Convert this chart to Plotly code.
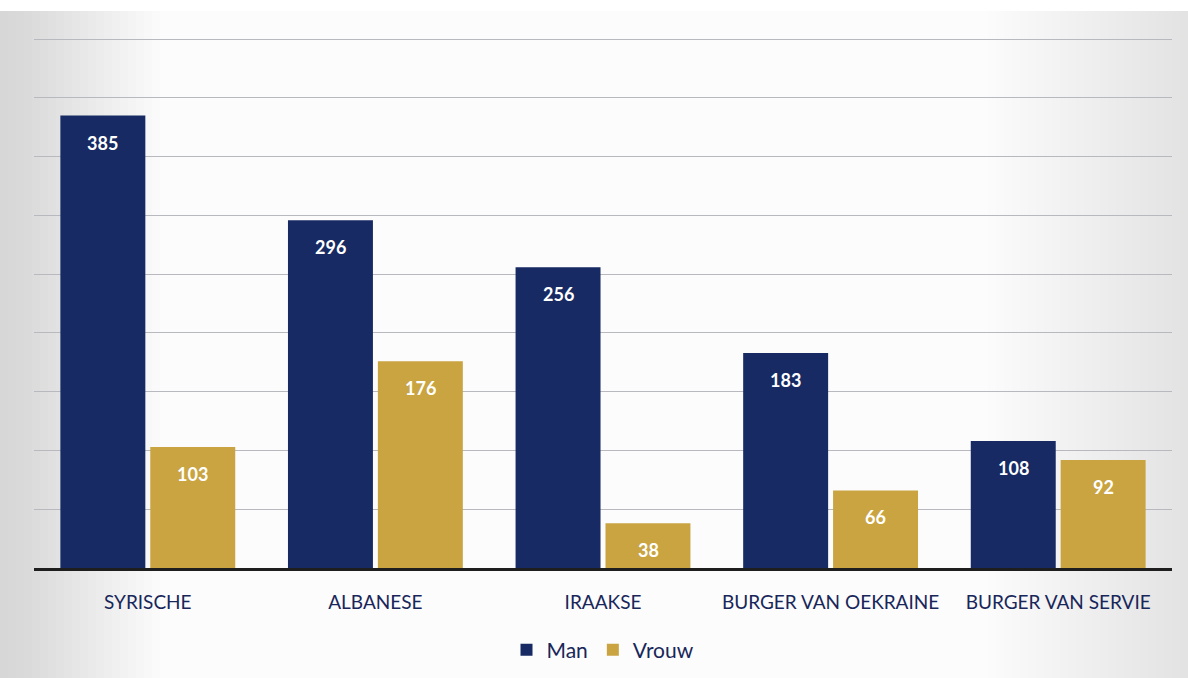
import plotly.graph_objects as go

categories = ["SYRISCHE", "ALBANESE", "IRAAKSE", "BURGER VAN OEKRAINE", "BURGER VAN SERVIE"]
man = [385, 296, 256, 183, 108]
vrouw = [103, 176, 38, 66, 92]

NAVY = "#172a63"
GOLD = "#c9a441"
TEXT = "#18265a"
FONT = "Lato, Open Sans, sans-serif"

W, H = 1188, 678
L, R, T, B = 34, 16, 38, 110
PW, PH = W - L - R, H - T - B


def px_x(p):
    return (p - L) / PW


def px_y(p):
    return (H - B - p) / PH


fig = go.Figure()
for name, vals, col, shift in [("Man", man, NAVY, -45), ("Vrouw", vrouw, GOLD, 45)]:
    fig.add_trace(go.Bar(
        name=name, x=categories, y=vals,
        marker=dict(color=col, line=dict(width=0)),
        hoverinfo="x+y+name",
    ))
    # value labels sit a little below the top of each bar
    for c, v in zip(categories, vals):
        fig.add_annotation(x=c, y=v, text=f"<b>{v}</b>", showarrow=False,
                           xshift=shift, yshift=-27,
                           font=dict(family=FONT, size=18, color="white"))

# scanned-page look: light frame with a soft grey vignette at the sides
frame = dict(xref="paper", yref="paper", line=dict(width=0), layer="below")
fig.add_shape(type="rect", x0=px_x(0), x1=px_x(W), y0=px_y(H), y1=px_y(11),
              fillcolor="#fcfcfc", **frame)
for w in range(8, 161, 8):
    fig.add_shape(type="rect", x0=px_x(0), x1=px_x(w), y0=px_y(H), y1=px_y(11),
                  fillcolor="rgba(165,166,174,0.026)", **frame)
for w in range(8, 201, 8):
    fig.add_shape(type="rect", x0=px_x(W - w), x1=px_x(W), y0=px_y(H), y1=px_y(11),
                  fillcolor="rgba(165,166,174,0.012)", **frame)

fig.update_layout(
    width=W, height=H,
    paper_bgcolor="white",
    plot_bgcolor="rgba(0,0,0,0)",
    margin=dict(l=L, r=R, t=T, b=B, autoexpand=False),
    barmode="group",
    bargap=0.21,
    bargroupgap=0.055,
    showlegend=True,
    legend=dict(orientation="h", x=0.5, xanchor="center", y=px_y(650), yanchor="middle",
                font=dict(family=FONT, size=21, color=TEXT),
                itemwidth=30, traceorder="normal", bgcolor="rgba(0,0,0,0)"),
    font=dict(family=FONT, color=TEXT),
)
fig.update_xaxes(
    showgrid=False, showline=True, linecolor="#1e1e1e", linewidth=3,
    ticks="", tickfont=dict(family=FONT, size=19, color=TEXT), ticklabelstandoff=15,
)
fig.update_yaxes(
    range=[0, 451], dtick=50, showgrid=True, gridcolor="#b8b9bf", gridwidth=1.3,
    showticklabels=False, zeroline=False,
)

fig.write_html("out.html", config={"displayModeBar": False},
               post_script="document.body.style.margin='0';")
